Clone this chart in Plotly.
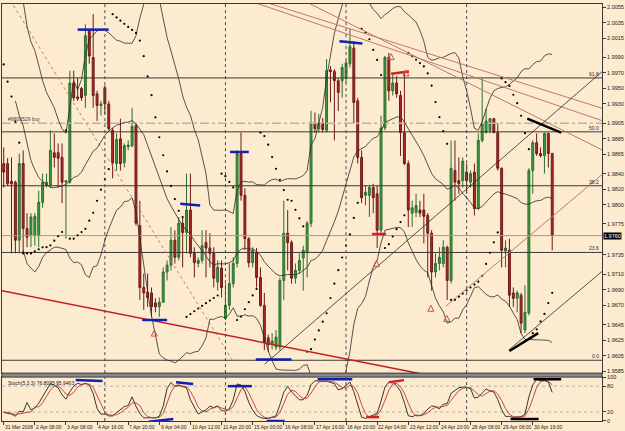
import numpy as np
import pandas as pd
import plotly.graph_objects as go

# ---------------- data (H4 bars) ----------------
open_ = [1.9853, 1.9853, 1.9830, 1.9829, 1.9754, 1.9853, 1.9769, 1.9760, 1.9760, 1.9760,
         1.9803, 1.9825, 1.9825, 1.9867, 1.9867, 1.9861, 1.9829, 1.9829, 1.9957, 1.9939,
         1.9950, 1.9941, 2.0024, 1.9990, 1.9943, 1.9928, 1.9951, 1.9930, 1.9896, 1.9853,
         1.9885, 1.9854, 1.9875, 1.9876, 1.9902, 1.9773, 1.9693, 1.9687, 1.9686, 1.9673,
         1.9668, 1.9674, 1.9713, 1.9722, 1.9754, 1.9732, 1.9776, 1.9764, 1.9793, 1.9737,
         1.9724, 1.9728, 1.9751, 1.9744, 1.9737, 1.9700, 1.9718, 1.9653, 1.9670, 1.9698,
         1.9724, 1.9866, 1.9812, 1.9756, 1.9725, 1.9738, 1.9706, 1.9670, 1.9628, 1.9619,
         1.9616, 1.9616, 1.9702, 1.9763, 1.9751, 1.9705, 1.9715, 1.9731, 1.9738, 1.9776,
         1.9905, 1.9898, 1.9905, 1.9896, 1.9974, 1.9972, 1.9960, 1.9960, 1.9963, 1.9982,
         2.0002, 1.9934, 1.9861, 1.9812, 1.9812, 1.9822, 1.9814, 1.9767, 1.9899, 1.9990,
         1.9947, 1.9957, 1.9941, 1.9893, 1.9853, 1.9789, 1.9790, 1.9793, 1.9793, 1.9786,
         1.9763, 1.9713, 1.9724, 1.9724, 1.9745, 1.9702, 1.9844, 1.9831, 1.9831, 1.9842,
         1.9829, 1.9842, 1.9795, 1.9883, 1.9893, 1.9896, 1.9911, 1.9893, 1.9847, 1.9740,
         1.9741, 1.9686, 1.9679, 1.9683, 1.9638, 1.9660, 1.9844, 1.9880, 1.9866, 1.9863,
         1.9892, 1.9866]
high = [1.9874, 1.9860, 1.9861, 1.9831, 1.9866, 1.9870, 1.9789, 1.9789, 1.9789, 1.9818,
        1.9840, 1.9840, 1.9896, 1.9892, 1.9879, 1.9879, 1.9831, 1.9973, 1.9973, 1.9964,
        1.9952, 2.0033, 2.0027, 2.0046, 1.9947, 1.9934, 1.9954, 1.9934, 1.9899, 1.9892,
        1.9911, 1.9879, 1.9883, 1.9925, 1.9905, 1.9805, 1.9711, 1.9711, 1.9693, 1.9679,
        1.9680, 1.9719, 1.9728, 1.9771, 1.9767, 1.9784, 1.9784, 1.9840, 1.9840, 1.9745,
        1.9732, 1.9767, 1.9767, 1.9763, 1.9745, 1.9728, 1.9728, 1.9698, 1.9724, 1.9732,
        1.9870, 1.9893, 1.9821, 1.9758, 1.9745, 1.9744, 1.9719, 1.9686, 1.9632, 1.9634,
        1.9638, 1.9706, 1.9805, 1.9793, 1.9754, 1.9724, 1.9737, 1.9747, 1.9779, 1.9921,
        1.9919, 1.9917, 1.9912, 1.9988, 1.9979, 1.9975, 1.9964, 1.9982, 1.9986, 2.0027,
        2.0011, 1.9938, 1.9870, 1.9825, 1.9825, 1.9827, 1.9825, 1.9915, 1.9992, 1.9996,
        1.9970, 1.9966, 1.9947, 1.9970, 1.9857, 1.9805, 1.9814, 1.9805, 1.9814, 1.9789,
        1.9767, 1.9737, 1.9745, 1.9754, 1.9747, 1.9883, 1.9883, 1.9861, 1.9861, 1.9853,
        1.9844, 1.9853, 1.9892, 1.9963, 1.9924, 1.9912, 1.9912, 1.9905, 1.9848, 1.9754,
        1.9756, 1.9693, 1.9689, 1.9686, 1.9696, 1.9847, 1.9883, 1.9892, 1.9874, 1.9893,
        1.9893, 1.9867]
low = [1.9822, 1.9825, 1.9737, 1.9737, 1.9737, 1.9737, 1.9745, 1.9745, 1.9747, 1.9745,
       1.9796, 1.9822, 1.9822, 1.9848, 1.9822, 1.9802, 1.9756, 1.9827, 1.9934, 1.9934,
       1.9934, 1.9925, 1.9982, 1.9925, 1.9908, 1.9915, 1.9917, 1.9896, 1.9834, 1.9844,
       1.9844, 1.9848, 1.9870, 1.9874, 1.9773, 1.9677, 1.9664, 1.9668, 1.9655, 1.9661,
       1.9655, 1.9673, 1.9702, 1.9715, 1.9724, 1.9728, 1.9719, 1.9737, 1.9732, 1.9706,
       1.9719, 1.9724, 1.9706, 1.9719, 1.9693, 1.9689, 1.9680, 1.9651, 1.9664, 1.9693,
       1.9719, 1.9805, 1.9741, 1.9719, 1.9719, 1.9693, 1.9668, 1.9612, 1.9610, 1.9613,
       1.9612, 1.9612, 1.9677, 1.9715, 1.9698, 1.9698, 1.9711, 1.9689, 1.9706, 1.9771,
       1.9893, 1.9893, 1.9893, 1.9893, 1.9932, 1.9883, 1.9921, 1.9938, 1.9957, 1.9977,
       1.9905, 1.9853, 1.9802, 1.9799, 1.9784, 1.9789, 1.9744, 1.9763, 1.9896, 1.9934,
       1.9941, 1.9938, 1.9863, 1.9851, 1.9771, 1.9771, 1.9784, 1.9784, 1.9750, 1.9706,
       1.9689, 1.9706, 1.9715, 1.9719, 1.9677, 1.9698, 1.9805, 1.9814, 1.9822, 1.9814,
       1.9822, 1.9786, 1.9793, 1.9880, 1.9892, 1.9892, 1.9892, 1.9844, 1.9719, 1.9719,
       1.9668, 1.9668, 1.9661, 1.9634, 1.9634, 1.9657, 1.9814, 1.9863, 1.9861, 1.9840,
       1.9848, 1.9741]
close = [1.9842, 1.9827, 1.9827, 1.9754, 1.9853, 1.9769, 1.9758, 1.9784, 1.9785, 1.9803,
         1.9829, 1.9829, 1.9870, 1.9861, 1.9860, 1.9829, 1.9831, 1.9957, 1.9938, 1.9937,
         1.9938, 2.0018, 1.9992, 1.9941, 1.9928, 1.9930, 1.9930, 1.9898, 1.9854, 1.9884,
         1.9853, 1.9876, 1.9877, 1.9901, 1.9776, 1.9693, 1.9686, 1.9680, 1.9668, 1.9668,
         1.9674, 1.9713, 1.9722, 1.9754, 1.9732, 1.9776, 1.9764, 1.9793, 1.9737, 1.9725,
         1.9728, 1.9747, 1.9744, 1.9737, 1.9705, 1.9719, 1.9693, 1.9670, 1.9698, 1.9724,
         1.9866, 1.9812, 1.9756, 1.9725, 1.9741, 1.9706, 1.9670, 1.9622, 1.9619, 1.9624,
         1.9629, 1.9702, 1.9763, 1.9751, 1.9705, 1.9715, 1.9728, 1.9741, 1.9776, 1.9905,
         1.9898, 1.9905, 1.9897, 1.9973, 1.9972, 1.9960, 1.9945, 1.9977, 1.9983, 2.0004,
         1.9932, 1.9861, 1.9809, 1.9816, 1.9822, 1.9809, 1.9767, 1.9899, 1.9990, 1.9947,
         1.9957, 1.9943, 1.9893, 1.9853, 1.9793, 1.9796, 1.9799, 1.9789, 1.9785, 1.9763,
         1.9713, 1.9724, 1.9732, 1.9745, 1.9702, 1.9847, 1.9829, 1.9827, 1.9856, 1.9831,
         1.9840, 1.9795, 1.9883, 1.9905, 1.9908, 1.9911, 1.9893, 1.9847, 1.9741, 1.9744,
         1.9683, 1.9679, 1.9686, 1.9647, 1.9661, 1.9844, 1.9880, 1.9866, 1.9863, 1.9892,
         1.9866, 1.9760]

# Bollinger band values for the first bars (before 20 bars of history)
bb_upper_head = [None, None, None, None, None, 2.0063, 2.0030, 2.0010, 1.9999, 1.9980,
                 1.9960, 1.9945, 1.9935, 1.9925, 1.9910, 1.9898, 1.9892, 1.9928, 1.9960]
bb_mid_head = [None, None, None, 1.9934, 1.9915, 1.9902, 1.9880, 1.9857, 1.9845, 1.9835,
               1.9830, 1.9826, 1.9822, 1.9822, 1.9823, 1.9824, 1.9826, 1.9830, 1.9835]
bb_lower_head = [None, None, None, None, None, 1.9741, 1.9724, 1.9718, 1.9713, 1.9720,
                 1.9732, 1.9738, 1.9742, 1.9745, 1.9745, 1.9744, 1.9742, 1.9731, 1.9725]
# stochastic values for the first bars
stoch_k_head = [19, 17, 15, 10, 22, 20]
stoch_d_head = [20, 19, 17, 14, 16, 18, 19, 20]

date_labels = ["31 Mar 2008", "2 Apr 08:00", "3 Apr 08:00", "4 Apr 16:00", "7 Apr 20:00",
               "9 Apr 04:00", "10 Apr 12:00", "11 Apr 20:00", "15 Apr 00:00", "16 Apr 08:00",
               "17 Apr 16:00", "18 Apr 20:00", "22 Apr 04:00", "23 Apr 12:00", "24 Apr 20:00",
               "28 Apr 08:00", "29 Apr 08:00", "30 Apr 16:00"]
label_step = 8
week_start_bars = [26, 57, 88, 119]

price_ticks = [2.0055, 2.0035, 2.0015, 1.9990, 1.9970, 1.9950, 1.9930, 1.9905, 1.9885,
               1.9865, 1.9840, 1.9820, 1.9800, 1.9775, 1.9735, 1.9710, 1.9690, 1.9670,
               1.9645, 1.9625, 1.9605, 1.9585]
stoch_ticks = [0, 20, 80, 100]
stoch_levels = [20, 80]
stoch_text = "Stoch(5,3,3) 76.8095 95.9463"

current_price = 1.9760
order_price = 1.9905
order_text = "#9800529 buy"

# Fibonacci retracement anchors (bar, price)
fib_high = (-13.7, 2.0189)
fib_low = (58.8, 1.9599)
fib_ratios = [0.0, 0.236, 0.382, 0.5, 0.618]

# Hand-drawn trend lines (bar pairs, price pairs)
red_line = ([-0.7, 108.8], [1.9689, 1.9580])
brown_lines = [([63.3, 154.1], [2.0063, 1.9908]),
               ([66.3, 154.1], [2.0063, 1.9924]),
               ([77.3, 154.1], [2.0063, 1.9870]),
               ([113.7, 154.1], [1.9669, 1.9840])]
black_lines = [([67.1, 154.1], [1.9594, 1.9973]),
               ([129.8, 154.1], [1.9612, 1.9715])]

# short marker segments on price panel
blue_marks = [([19.0, 27.0], [2.0026, 2.0026]), ([45.4, 50.5], [1.9801, 1.9799]),
              ([58.2, 63.0], [1.9868, 1.9868]), ([35.6, 42.0], [1.9651, 1.9651]),
              ([64.8, 74.0], [1.9600, 1.9600]), ([86.3, 92.2], [2.0011, 2.0008])]
red_marks = [([94.7, 98.3], [1.9762, 1.9762]), ([99.6, 104.2], [1.9969, 1.9972])]
black_marks = [([134.6, 143.3], [1.9911, 1.9893]), ([130.0, 137.4], [1.9611, 1.9634])]
# marker segments on stochastic panel
s_blue_marks = [([18.5, 25.4], [94, 92]), ([37.2, 43.6], [-3, 3.6]), ([44.3, 48.7], [89, 85]),
                ([57.6, 63.8], [80, 80]), ([67.6, 72.2], [-1, -1]), ([80.7, 89.6], [96, 96])]
s_red_marks = [([93.2, 96.5], [8, 8]), ([99.1, 102.9], [89, 94])]
s_black_marks = [([130.3, 137.5], [3.6, 3.6]), ([136.2, 143.3], [96, 96])]

arrow_bars = [38.7, 95.8, 109.8, 113.9, 99.6, 103.4]
arrow_prices = [1.9638, 1.9728, 1.9670, 1.9657, 1.9995, 1.9974]

sar_start = (1.9981, 1.9822, 0.14)  # SAR value, extreme point, AF at first bar (down trend)

# ---------------- indicators ----------------
n = len(close)
bars = np.arange(n)
c = pd.Series(close)
h = pd.Series(high)
l = pd.Series(low)
mid = c.rolling(20).mean()
sd = c.rolling(20).std(ddof=0)
upper = mid + 2 * sd
lower = mid - 2 * sd


def with_head(series, head):
    vals = series.tolist()
    for i, v in enumerate(head):
        if np.isnan(vals[i]):
            vals[i] = v
    return vals


upper = with_head(upper, bb_upper_head)
mid = with_head(mid, bb_mid_head)
lower = with_head(lower, bb_lower_head)

hh = h.rolling(5).max()
ll = l.rolling(5).min()
k = 100 * (c - ll).rolling(3).sum() / (hh - ll).rolling(3).sum()
d = k.rolling(3).mean()
k = with_head(k, stoch_k_head)
d = with_head(d, stoch_d_head)


def psar(hi, lo, start, step=0.02, amax=0.2):
    s, ep, af = start
    up = False
    out = []
    for i in range(len(hi)):
        if i > 0:
            s = s + af * (ep - s)
            if up:
                s = min(s, lo[i - 1], lo[max(i - 2, 0)])
            else:
                s = max(s, hi[i - 1], hi[max(i - 2, 0)])
        if up:
            if lo[i] < s:
                up, s, ep, af = False, ep, lo[i], step
            elif hi[i] > ep:
                ep, af = hi[i], min(af + step, amax)
        else:
            if hi[i] > s:
                up, s, ep, af = True, ep, hi[i], step
            elif lo[i] < ep:
                ep, af = lo[i], min(af + step, amax)
        out.append(s)
    return out


sar = psar(high, low, sar_start)

# ---------------- figure ----------------
BG = "#FDEBD0"
XR = [-0.44, 153.8]
fig = go.Figure()


def seg(xs, ys, color, width, dash="solid", axes=("x", "y")):
    fig.add_trace(go.Scatter(x=xs, y=ys, mode="lines", line=dict(color=color, width=width, dash=dash),
                             xaxis=axes[0], yaxis=axes[1], showlegend=False, hoverinfo="skip",
                             connectgaps=False))


# fib levels and horizontal lines
fib_levels = [fib_low[1] + r * (fib_high[1] - fib_low[1]) for r in fib_ratios]
for lv in fib_levels:
    seg(XR, [lv, lv], "#3a3a30", 1)
seg(XR, [order_price, order_price], "#b8b4a8", 1.5, "dashdot")
seg(XR, [current_price, current_price], "#a09c90", 1)
seg([fib_high[0], fib_low[0]], [fib_high[1], fib_low[1]], "#c08070", 1, "dot")

# bollinger bands
for s_ in (upper, mid, lower):
    seg(bars, s_, "#2a2a2a", 0.8)

# candles
fig.add_trace(go.Candlestick(x=bars, open=open_, high=high, low=low, close=close,
                             increasing=dict(line=dict(color="#2c6e2c", width=1), fillcolor="#3c9c3c"),
                             decreasing=dict(line=dict(color="#6e1818", width=1), fillcolor="#b02828"),
                             whiskerwidth=0, xaxis="x", yaxis="y", showlegend=False, hoverinfo="skip"))

# parabolic SAR
fig.add_trace(go.Scatter(x=bars, y=sar, mode="markers", marker=dict(color="#000000", size=2.2),
                         xaxis="x", yaxis="y", showlegend=False, hoverinfo="skip"))

# trend lines
seg(*red_line, "#c0201c", 1.5)
for xs, ys in brown_lines:
    seg(xs, ys, "#c07870", 1)
for xs, ys in black_lines:
    seg(xs, ys, "#2a2a2a", 0.8)
for xs, ys in blue_marks:
    seg(xs, ys, "#1020b0", 2.5)
for xs, ys in red_marks:
    seg(xs, ys, "#d02020", 2.5)
for xs, ys in black_marks:
    seg(xs, ys, "#000000", 2.5)

fig.add_trace(go.Scatter(x=arrow_bars, y=arrow_prices, mode="markers",
                         marker=dict(symbol="arrow-up-open", size=6, color="#d05040", line=dict(width=1, color="#d05040")),
                         xaxis="x", yaxis="y", showlegend=False, hoverinfo="skip"))

# stochastic panel
for lv in stoch_levels:
    seg(XR, [lv, lv], "#a0a0a0", 0.8, "dot", ("x2", "y2"))
seg(bars, k, "#202020", 0.9, axes=("x2", "y2"))
seg(bars, d, "#c03828", 0.9, axes=("x2", "y2"))
for xs, ys in s_blue_marks:
    seg(xs, ys, "#1020b0", 2.5, axes=("x2", "y2"))
for xs, ys in s_red_marks:
    seg(xs, ys, "#d02020", 2.5, axes=("x2", "y2"))
for xs, ys in s_black_marks:
    seg(xs, ys, "#000000", 2.5, axes=("x2", "y2"))

FONT = "Liberation Sans"
MAIN_DOM = [48 / 418, 1.0]
STO_DOM = [0.0, 44 / 418]
axis_common = dict(showline=True, mirror=True, linecolor="#3a3a3a", linewidth=1, showgrid=False,
                   zeroline=False)

shapes = []
for wb in week_start_bars:
    for yr in ("y domain", "y2 domain"):
        shapes.append(dict(type="line", xref="x", yref=yr, x0=wb, x1=wb, y0=0, y1=1,
                           line=dict(color="#4a4a4a", width=1, dash="dot")))
shapes.append(dict(type="rect", xref="paper", yref="paper", x0=0, x1=1, y0=STO_DOM[1], y1=MAIN_DOM[0],
                   fillcolor="#8a8a8a", line=dict(color="#3a3a3a", width=1)))

annotations = []
for i, t in enumerate(date_labels):
    annotations.append(dict(x=i * label_step - 0.2, y=0, xref="x2", yref="paper", text=t, showarrow=False,
                            xanchor="left", yanchor="top", yshift=-1, font=dict(family=FONT, size=5, color="#1a1a1a")))
for r, lv in zip(fib_ratios, fib_levels):
    annotations.append(dict(x=XR[1] - 0.2, y=lv, xref="x", yref="y", text=f"{r * 100:.1f}", showarrow=False,
                            xanchor="right", yanchor="bottom", yshift=-1,
                            font=dict(family=FONT, size=5, color="#2a2a2a")))
annotations.append(dict(x=0.5, y=order_price, xref="x", yref="y", text=order_text, showarrow=False,
                        xanchor="left", yanchor="bottom", yshift=-1, font=dict(family=FONT, size=5, color="#3a3a3a")))
annotations.append(dict(x=0.5, y=101, xref="x2", yref="y2", text=stoch_text, showarrow=False,
                        xanchor="left", yanchor="top", yshift=-1, font=dict(family=FONT, size=5, color="#1a1a1a")))
annotations.append(dict(x=1, y=current_price, xref="paper", yref="y", text=f"{current_price:.4f}",
                        showarrow=False, xanchor="left", xshift=1, bgcolor="#000000", borderpad=0,
                        font=dict(family=FONT, size=5.5, color="#ffffff")))

fig.update_layout(
    width=625, height=431,
    margin=dict(l=1, r=21, t=3, b=10),
    paper_bgcolor=BG, plot_bgcolor=BG,
    showlegend=False, hovermode=False,
    xaxis=dict(domain=[0, 1], anchor="y", range=XR, showticklabels=False, ticks="",
               rangeslider=dict(visible=False), **axis_common),
    yaxis=dict(domain=MAIN_DOM, anchor="x", side="right", range=[1.95824, 2.00591],
               tickvals=price_ticks, ticktext=[f"{p:.4f}" for p in price_ticks],
               ticks="outside", ticklen=3, tickcolor="#3a3a3a",
               tickfont=dict(family=FONT, size=5.5, color="#1a1a1a"), **axis_common),
    xaxis2=dict(domain=[0, 1], anchor="y2", range=XR, matches="x",
                tickvals=[i * label_step for i in range(len(date_labels))], showticklabels=False,
                ticks="outside", ticklen=3, tickcolor="#3a3a3a", **axis_common),
    yaxis2=dict(domain=STO_DOM, anchor="x2", side="right", range=[-1, 101],
                tickvals=stoch_ticks, ticktext=[str(t) for t in stoch_ticks],
                ticks="outside", ticklen=3, tickcolor="#3a3a3a",
                tickfont=dict(family=FONT, size=5.5, color="#1a1a1a"), **axis_common),
    shapes=shapes, annotations=annotations,
)

fig.write_html("out.html")
